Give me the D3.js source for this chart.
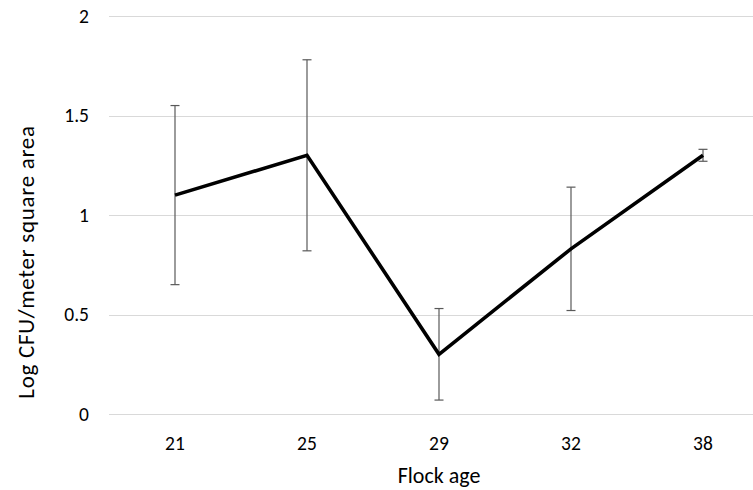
<!DOCTYPE html>
<html>
<head>
<meta charset="utf-8">
<script src="https://cdn.jsdelivr.net/npm/d3@7"></script>
<style>
  html, body { margin: 0; padding: 0; background: #fff; }
  svg { display: block; }
  text { font-family: Calibri, Carlito, "Open Sans", "Liberation Sans", sans-serif; fill: #000; }
</style>
</head>
<body>
<svg id="chart" width="753" height="490"></svg>
<script>
// Flock age groups and log CFU per square metre, with error ranges
const ages = ["21", "25", "29", "32", "38"];
const meanValues = [1.1, 1.3, 0.3, 0.83, 1.3];
const errLow = [0.65, 0.82, 0.07, 0.52, 1.27];
const errHigh = [1.55, 1.78, 0.53, 1.14, 1.33];
const yTicks = [0, 0.5, 1, 1.5, 2];

const svg = d3.select("#chart");
const margin = { left: 109, right: -16, top: 16, bottom: 76 };
const W = 753, H = 490;

const x = d3.scaleBand()
  .domain(ages)
  .range([margin.left, W - margin.right])
  .paddingInner(0).paddingOuter(0);

const y = d3.scaleLinear()
  .domain([0, 2])
  .range([H - margin.bottom, margin.top]);

const cx = d => x(d) + x.bandwidth() / 2;

// horizontal gridlines
svg.append("g")
  .selectAll("line")
  .data(yTicks)
  .join("line")
  .attr("x1", margin.left)
  .attr("x2", W - margin.right)
  .attr("y1", d => Math.round(y(d)) + 0.5)
  .attr("y2", d => Math.round(y(d)) + 0.5)
  .attr("stroke", "#d9d9d9")
  .attr("stroke-width", 1);

// y tick labels
svg.append("g")
  .selectAll("text")
  .data(yTicks)
  .join("text")
  .attr("x", 89)
  .attr("y", d => y(d) + 6.5)
  .attr("text-anchor", "end")
  .attr("font-size", 19.5)
  .text(d => d3.format("")(d));

// x tick labels
svg.append("g")
  .selectAll("text")
  .data(ages)
  .join("text")
  .attr("x", d => cx(d))
  .attr("y", 450)
  .attr("text-anchor", "middle")
  .attr("font-size", 19.5)
  .text(d => d);

// axis titles
svg.append("text")
  .attr("x", 439)
  .attr("y", 483)
  .attr("text-anchor", "middle")
  .attr("font-size", 22)
  .text("Flock age");

svg.append("text")
  .attr("transform", "translate(34,262) rotate(-90)")
  .attr("text-anchor", "middle")
  .attr("font-size", 23)
  .attr("letter-spacing", 0.7)
  .text("Log CFU/meter square area");

// error bars
const errData = ages.map((a, i) => ({ a, lo: errLow[i], hi: errHigh[i] }));
const eb = svg.append("g").attr("stroke", "#595959").attr("stroke-width", 1.2);
eb.selectAll("line.v")
  .data(errData)
  .join("line")
  .attr("class", "v")
  .attr("x1", d => cx(d.a)).attr("x2", d => cx(d.a))
  .attr("y1", d => y(d.hi)).attr("y2", d => y(d.lo));
eb.selectAll("line.t")
  .data(errData)
  .join("line")
  .attr("class", "t")
  .attr("x1", d => cx(d.a) - 4.5).attr("x2", d => cx(d.a) + 4.5)
  .attr("y1", d => y(d.hi)).attr("y2", d => y(d.hi));
eb.selectAll("line.b")
  .data(errData)
  .join("line")
  .attr("class", "b")
  .attr("x1", d => cx(d.a) - 4.5).attr("x2", d => cx(d.a) + 4.5)
  .attr("y1", d => y(d.lo)).attr("y2", d => y(d.lo));

// mean line
const line = d3.line()
  .x((d, i) => cx(ages[i]))
  .y(d => y(d));

svg.append("path")
  .datum(meanValues)
  .attr("d", line)
  .attr("fill", "none")
  .attr("stroke", "#000")
  .attr("stroke-width", 3.6)
  .attr("stroke-linejoin", "miter")
  .attr("stroke-linecap", "butt");
</script>
</body>
</html>
